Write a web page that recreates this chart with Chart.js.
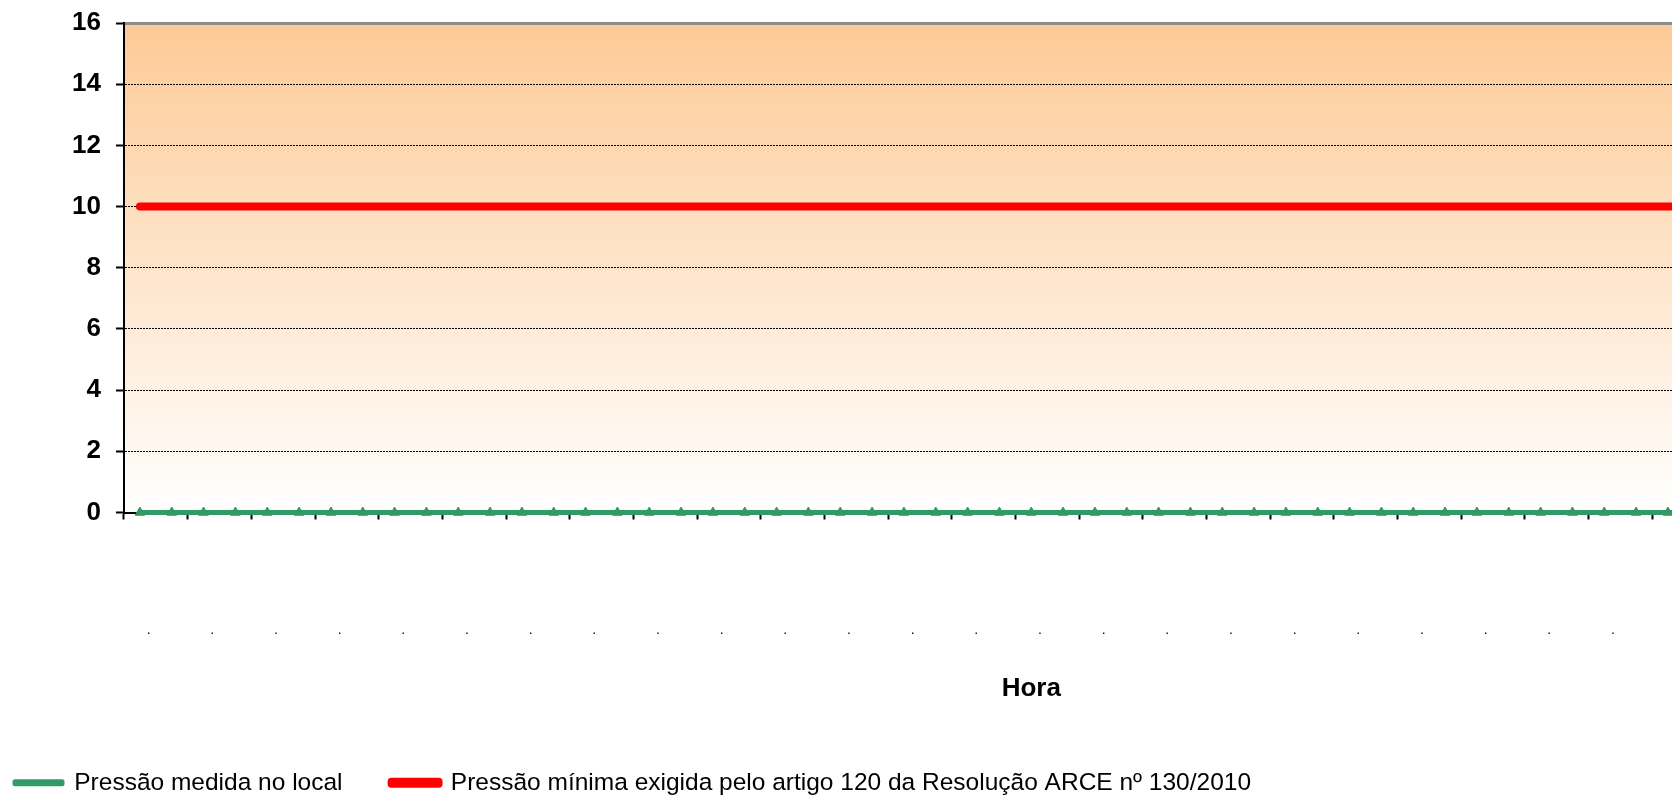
<!DOCTYPE html>
<html>
<head>
<meta charset="utf-8">
<script src="https://cdn.jsdelivr.net/npm/chart.js@4/dist/chart.umd.min.js"></script>
<style>
html,body{margin:0;padding:0;overflow:hidden;background:#fff;width:1672px;height:796px}
#wrap{width:1945px;height:830px}
canvas{display:block}
</style>
</head>
<body>
<div id="wrap"><canvas id="c" width="1945" height="830" style="width:1945px;height:830px"></canvas></div>
<script>
// Categories (hour slots); the tick text printed under the axis is a "." on every other slot
const categories = [
  ".", "", ".", "", ".", "", ".", "", ".", "", ".", "", ".", "", ".", "", ".", "", ".",
  "", ".", "", ".", "", ".", "", ".", "", ".", "", ".", "", ".", "", ".", "", ".", "",
  ".", "", ".", "", ".", "", ".", "", ".", "", ".", "", ".", "", ".", "", ".", "", "."
];

// Series values
const pressaoMedida = [
  0, 0, 0, 0, 0, 0, 0, 0, 0, 0, 0, 0, 0, 0, 0, 0, 0, 0, 0,
  0, 0, 0, 0, 0, 0, 0, 0, 0, 0, 0, 0, 0, 0, 0, 0, 0, 0, 0,
  0, 0, 0, 0, 0, 0, 0, 0, 0, 0, 0, 0, 0, 0, 0, 0, 0, 0, 0
];
const pressaoMinima = [
  10, 10, 10, 10, 10, 10, 10, 10, 10, 10, 10, 10, 10, 10, 10, 10, 10, 10, 10,
  10, 10, 10, 10, 10, 10, 10, 10, 10, 10, 10, 10, 10, 10, 10, 10, 10, 10, 10,
  10, 10, 10, 10, 10, 10, 10, 10, 10, 10, 10, 10, 10, 10, 10, 10, 10, 10, 10
];

// Y tick values and labels
const yTickValues = [0, 2, 4, 6, 8, 10, 12, 14, 16];
const yTickLabels = ["0", "2", "4", "6", "8", "10", "12", "14", "16"];

const seriesNames = [
  "Pressão medida no local",
  "Pressão mínima exigida pelo artigo 120 da Resolução ARCE nº 130/2010"
];
const axisTitleX = "Hora";

Chart.defaults.font.family = "'Liberation Sans', Arial, sans-serif";
Chart.defaults.color = "#000";

const plotBackground = {
  id: "plotBackground",
  beforeDraw(chart) {
    const a = chart.chartArea;
    const ctx = chart.ctx;
    const g = ctx.createLinearGradient(0, a.top, 0, a.bottom);
    g.addColorStop(0, "#FDCA96");
    g.addColorStop(1, "#FFFFFF");
    ctx.save();
    ctx.fillStyle = g;
    ctx.fillRect(a.left, a.top, a.right - a.left, a.bottom - a.top);
    ctx.restore();
  }
};

new Chart(document.getElementById("c"), {
  type: "line",
  data: {
    labels: categories,
    datasets: [
      {
        label: seriesNames[0],
        data: pressaoMedida,
        borderColor: "#339966",
        backgroundColor: "#339966",
        borderWidth: 5,
        pointStyle: "triangle",
        pointRadius: 5.5,
        pointBackgroundColor: "#339966",
        pointBorderColor: "#339966",
        pointBorderWidth: 1,
        borderCapStyle: "round",
        borderJoinStyle: "round",
        clip: false,
        tension: 0
      },
      {
        label: seriesNames[1],
        data: pressaoMinima,
        borderColor: "#FF0000",
        backgroundColor: "#FF0000",
        borderWidth: 8,
        pointRadius: 0,
        borderCapStyle: "round",
        borderJoinStyle: "round",
        clip: false,
        tension: 0
      }
    ]
  },
  options: {
    responsive: false,
    animation: false,
    devicePixelRatio: 1,
    events: [],
    layout: { padding: { top: 23, left: 0, right: 0, bottom: 25 } },
    scales: {
      x: {
        type: "category",
        position: "bottom",
        offset: true,
        afterFit: (s) => { s.paddingLeft = 0; s.paddingRight = 0; s.height = 243; },
        grid: {
          display: true,
          offset: true,
          drawOnChartArea: false,
          drawTicks: true,
          tickLength: 7,
          tickWidth: 2,
          color: "rgba(0,0,0,0)",
          tickColor: (c) => (c.index % 2 === 0 ? "#000" : "rgba(0,0,0,0)")
        },
        border: { display: true, color: "#000", width: 2 },
        ticks: {
          autoSkip: false,
          maxRotation: 0,
          minRotation: 0,
          labelOffset: 8.7,
          padding: 102,
          color: "#000",
          font: { size: 14 }
        },
        title: {
          display: true,
          text: axisTitleX,
          color: "#000",
          font: { size: 26, weight: "bold" },
          padding: { top: 0, bottom: 51 }
        }
      },
      xTop: {
        type: "category",
        position: "top",
        display: true,
        afterFit: (s) => { s.paddingLeft = 0; s.paddingRight = 0; s.height = 0; },
        grid: { display: false, drawTicks: false },
        ticks: { display: false },
        border: { display: true, color: "#8C8C8C", width: 3 }
      },
      y: {
        min: 0,
        max: 16,
        afterFit: (s) => { s.width = 124; s.paddingTop = 0; s.paddingBottom = 0; },
        ticks: {
          stepSize: 2,
          padding: 15,
          color: "#000",
          font: { size: 26, weight: "bold" },
          callback: (v) => {
            const i = yTickValues.indexOf(v);
            return i >= 0 ? yTickLabels[i] : "";
          }
        },
        grid: {
          color: (c) => (c.tick && c.tick.value === 16 ? "rgba(0,0,0,0)" : "#000"),
          lineWidth: 1,
          tickColor: "#000",
          tickLength: 8,
          tickWidth: 2,
          tickBorderDash: []
        },
        border: { display: true, color: "#000", width: 2, dash: [2, 1] }
      }
    },
    plugins: {
      tooltip: { enabled: false },
      title: { display: false },
      legend: {
        display: true,
        position: "bottom",
        align: "start",
        labels: {
          boxWidth: 47,
          boxHeight: 2,
          padding: 15,
          color: "#000",
          font: { size: 24.5 },
          generateLabels: (chart) => {
            const items = Chart.defaults.plugins.legend.labels.generateLabels(chart);
            if (items.length) items[0].text = items[0].text + "     ";
            return items;
          }
        }
      }
    }
  },
  plugins: [plotBackground]
});
</script>
</body>
</html>
